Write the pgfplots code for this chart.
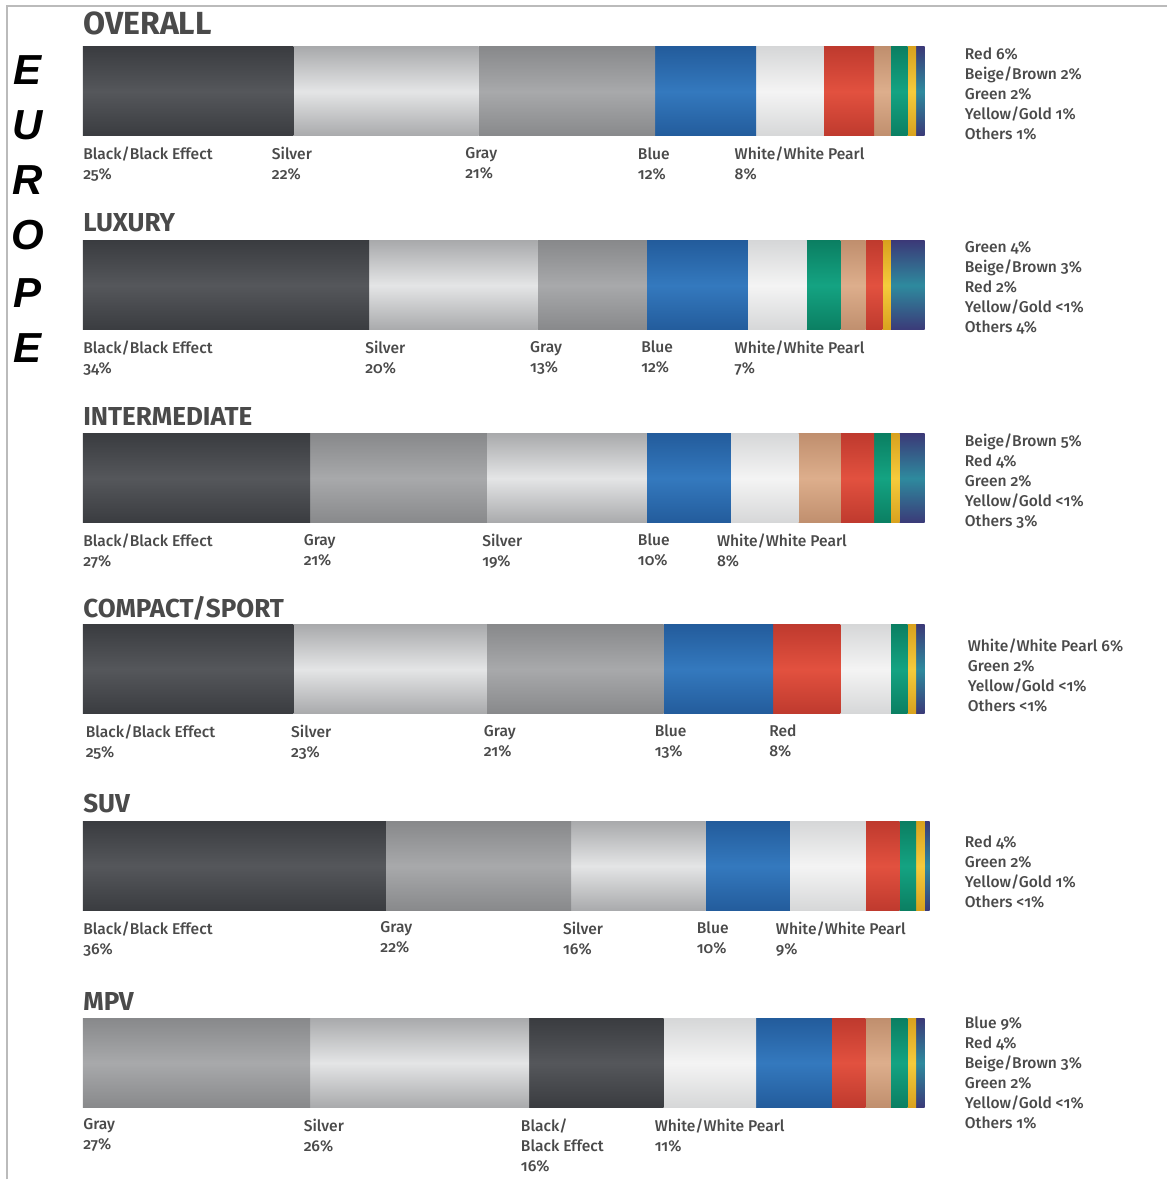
\documentclass[border=0pt]{standalone}
\usepackage{fontspec}
\setmainfont{Fira Sans}[Numbers=OldStyle]
\newfontfamily\labfont{Fira Sans Medium}[Numbers=OldStyle]
\newfontfamily\eufont{Liberation Sans}
\usepackage{pgfplots}
\pgfplotsset{compat=1.18}

% edge / middle colours of the cylinder look
\definecolor{blkE}{HTML}{3A3C40}\definecolor{blkM}{HTML}{55575B}
\definecolor{slvE}{HTML}{A9AAAC}\definecolor{slvM}{HTML}{E4E5E6}
\definecolor{gryE}{HTML}{88898B}\definecolor{gryM}{HTML}{A8A9AB}
\definecolor{bluE}{HTML}{235C9C}\definecolor{bluM}{HTML}{3479BE}
\definecolor{whtE}{HTML}{D6D7D8}\definecolor{whtM}{HTML}{F4F4F4}
\definecolor{redE}{HTML}{BF3A2E}\definecolor{redM}{HTML}{E2513F}
\definecolor{beiE}{HTML}{C08F6E}\definecolor{beiM}{HTML}{DDAE8C}
\definecolor{grnE}{HTML}{0B7F62}\definecolor{grnM}{HTML}{14A382}
\definecolor{yelE}{HTML}{D9A21E}\definecolor{yelM}{HTML}{F5CB3C}
\definecolor{othE}{HTML}{3B3A78}\definecolor{othM}{HTML}{2E8A9E}
\definecolor{txt}{HTML}{4A4A4A}
\definecolor{frame}{HTML}{BBBBBB}

\tikzset{
  cyl/.style 2 args={draw=none, top color=#1, bottom color=#1, middle color=#2},
  lab/.style={anchor=north west, inner sep=0pt, align=left, text=txt,
    font=\labfont\fontsize{7.8}{10}\selectfont},
  ttl/.style={anchor=base west, inner sep=0pt, text=txt,
    font=\fontsize{13}{14}\selectfont\bfseries},
  eu/.style={inner sep=0pt, font=\eufont\fontsize{21}{21}\selectfont\bfseries\itshape},
}
\pgfplotsset{
  cbar/.style={
    xbar stacked, hide axis, scale only axis, clip=false,
    width=421pt, height=44.5pt, xmin=0, xmax=100, ymin=-0.5, ymax=0.5,
    bar width=44.5pt, anchor=north west,
  },
}
\newcommand\seg[2]{\addplot[cyl={#1E}{#1M}] coordinates {(#2,0)};}
\newcommand\lab[2]{\node[lab] at (axis cs:#1,-0.5) [yshift=-5.5pt] {#2};}

\begin{document}
\begin{tikzpicture}
\path (0pt,0pt) rectangle (584pt,-590pt);
\draw[frame, line width=0.6pt] (3.5pt,-590pt) -- (3.5pt,-3pt) -- (584pt,-3pt);

\foreach \l/\y in {E/35,U/62.5,R/90,O/117.5,P/146.5,E/174}
  \node[eu] at (14pt,-\y pt) {\l};

% OVERALL
\begin{axis}[cbar, at={(41.5pt,-23.5pt)}]
\seg{blk}{25}\seg{slv}{22}\seg{gry}{21}\seg{blu}{12}\seg{wht}{8}
\seg{red}{6}\seg{bei}{2}\seg{grn}{2}\seg{yel}{1}\seg{oth}{1}
\node[ttl, font=\fontsize{16}{16}\selectfont\bfseries] at (axis cs:0,0.5) [yshift=6pt] {OVERALL};
\lab{0}{Black/Black Effect\\25\%}
\lab{22.4}{Silver\\22\%}
\lab{45.4}{Gray\\21\%}
\lab{65.9}{Blue\\12\%}
\lab{77.4}{White/White Pearl\\8\%}
\node[lab] at (axis cs:104.75,0.5) {Red 6\%\\Beige/Brown 2\%\\Green 2\%\\Yellow/Gold 1\%\\Others 1\%};
\end{axis}

% LUXURY
\begin{axis}[cbar, at={(41.5pt,-120.5pt)}]
\seg{blk}{34}\seg{slv}{20}\seg{gry}{13}\seg{blu}{12}\seg{wht}{7}
\seg{grn}{4}\seg{bei}{3}\seg{red}{2}\seg{yel}{1}\seg{oth}{4}
\node[ttl] at (axis cs:0,0.5) [yshift=4.5pt] {LUXURY};
\lab{0}{Black/Black Effect\\34\%}
\lab{33.5}{Silver\\20\%}
\lab{53.1}{Gray\\13\%}
\lab{66.3}{Blue\\12\%}
\lab{77.4}{White/White Pearl\\7\%}
\node[lab] at (axis cs:104.75,0.5) {Green 4\%\\Beige/Brown 3\%\\Red 2\%\\Yellow/Gold <1\%\\Others 4\%};
\end{axis}

% INTERMEDIATE
\begin{axis}[cbar, at={(41.5pt,-217pt)}]
\seg{blk}{27}\seg{gry}{21}\seg{slv}{19}\seg{blu}{10}\seg{wht}{8}
\seg{bei}{5}\seg{red}{4}\seg{grn}{2}\seg{yel}{1}\seg{oth}{3}
\node[ttl] at (axis cs:0,0.5) [yshift=4pt] {INTERMEDIATE};
\lab{0}{Black/Black Effect\\27\%}
\lab{26.2}{Gray\\21\%}
\lab{47.4}{Silver\\19\%}
\lab{65.9}{Blue\\10\%}
\lab{75.3}{White/White Pearl\\8\%}
\node[lab] at (axis cs:104.75,0.5) {Beige/Brown 5\%\\Red 4\%\\Green 2\%\\Yellow/Gold <1\%\\Others 3\%};
\end{axis}

% COMPACT/SPORT
\begin{axis}[cbar, at={(41.5pt,-312.5pt)}]
\seg{blk}{25}\seg{slv}{23}\seg{gry}{21}\seg{blu}{13}\seg{red}{8}
\seg{wht}{6}\seg{grn}{2}\seg{yel}{1}\seg{oth}{1}
\node[ttl] at (axis cs:0,0.5) [yshift=3.5pt] {COMPACT/SPORT};
\lab{0.3}{Black/Black Effect\\25\%}
\lab{24.7}{Silver\\23\%}
\lab{47.6}{Gray\\21\%}
\lab{67.9}{Blue\\13\%}
\lab{81.5}{Red\\8\%}
\node[lab] at (axis cs:105.1,0.5) [yshift=-7pt] {White/White Pearl 6\%\\Green 2\%\\Yellow/Gold <1\%\\Others <1\%};
\end{axis}

% SUV
\begin{axis}[cbar, at={(41.5pt,-411pt)}]
\seg{blk}{36}\seg{gry}{22}\seg{slv}{16}\seg{blu}{10}\seg{wht}{9}
\seg{red}{4}\seg{grn}{2}\seg{yel}{1}\seg{oth}{0.6}
\node[ttl] at (axis cs:0,0.5) [yshift=4.5pt] {SUV};
\lab{0}{Black/Black Effect\\36\%}
\lab{35.3}{Gray\\22\%}
\lab{57.0}{Silver\\16\%}
\lab{72.9}{Blue\\10\%}
\lab{82.3}{White/White Pearl\\9\%}
\node[lab] at (axis cs:104.75,0.5) [yshift=-7pt] {Red 4\%\\Green 2\%\\Yellow/Gold 1\%\\Others <1\%};
\end{axis}

% MPV
\begin{axis}[cbar, at={(41.5pt,-509.5pt)}]
\seg{gry}{27}\seg{slv}{26}\seg{blk}{16}\seg{wht}{11}\seg{blu}{9}
\seg{red}{4}\seg{bei}{3}\seg{grn}{2}\seg{yel}{1}\seg{oth}{1}
\node[ttl] at (axis cs:0,0.5) [yshift=4pt] {MPV};
\lab{0}{Gray\\27\%}
\lab{26.2}{Silver\\26\%}
\lab{52.0}{Black/\\Black Effect\\16\%}
\lab{67.9}{White/White Pearl\\11\%}
\node[lab] at (axis cs:104.75,0.5) [yshift=1pt] {Blue 9\%\\Red 4\%\\Beige/Brown 3\%\\Green 2\%\\Yellow/Gold <1\%\\Others 1\%};
\end{axis}
\end{tikzpicture}
\end{document}
